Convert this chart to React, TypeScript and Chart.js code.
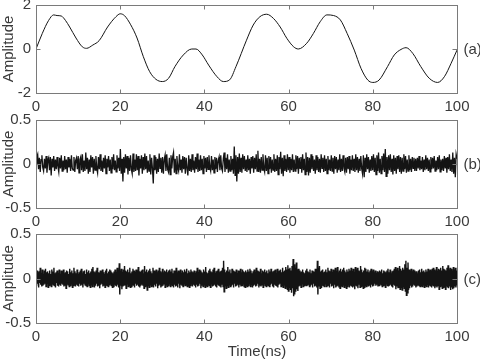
import React, { useEffect, useRef } from "react";
import { Chart, registerables } from "chart.js";

Chart.register(...registerables);

const FONT_FAMILY = "'Liberation Sans', Arial, sans-serif";
const TEXT_COLOR = "#3a3a3a";
const FRAME_COLOR = "#7a7a7a";
const LINE_COLOR = "#141414";

const xTickValues = [0, 20, 40, 60, 80, 100];
const panelLabels = ["(a)", "(b)", "(c)"];
const xAxisTitle = "Time(ns)";
const yAxisTitle = "Amplitude";

// Panel (a): smooth waveform
const timeA = [0, 1.5, 3, 4.2, 5, 6, 7, 8, 9.5, 11, 12, 13.5, 15, 17, 19, 20, 21, 22.5, 24, 25.5, 27, 28.5, 30, 31.5, 33, 35, 37, 38, 39.5, 41, 43, 44.5, 46, 47.5, 50, 51.6, 53.2, 54.8, 56.4, 58, 59.6, 61.2, 62.3, 64.3, 65.9, 67.5, 69.1, 70.7, 72.3, 73.9, 75.6, 77.2, 78.8, 80, 81.5, 83.5, 85.1, 86.7, 87.9, 89.5, 91.4, 93.4, 95.4, 97, 98.6, 100];
const ampA = [0, 0.71, 1.3, 1.55, 1.52, 1.5, 1.3, 1.0, 0.5, 0.1, 0.03, 0.18, 0.38, 1.0, 1.47, 1.6, 1.52, 1.1, 0.5, -0.35, -1.03, -1.38, -1.48, -1.33, -0.8, -0.27, 0, 0, -0.27, -0.73, -1.26, -1.48, -1.4, -0.8, 0.4, 1.09, 1.47, 1.58, 1.39, 1.0, 0.48, 0.1, 0, 0.26, 0.71, 1.24, 1.55, 1.52, 1.32, 0.71, -0.05, -0.88, -1.41, -1.52, -1.41, -0.8, -0.27, -0.02, 0.06, -0.2, -0.8, -1.33, -1.52, -1.26, -0.65, -0.05];

// Panel (b): noise, in hundredths, evenly spaced over 0..100 ns
const noiseB = [
  0,8,11,-6,7,-9,5,10,-4,-8,6,-5,9,-10,4,7,-7,8,-13,6,-4,9,-8,5,-6,8,-3,-9,7,-5,10,-8,4,-7,9,-6,5,-10,8,-4,6,-8,10,-5,-7,8,-9,4,7,-6,
  9,-10,5,8,-7,11,-9,4,-8,13,-6,7,-11,5,-9,10,-4,8,-11,6,-7,9,-5,-10,8,-6,11,-8,4,-9,7,-5,10,-11,6,-4,9,-8,5,-10,8,-6,11,-7,4,-9,10,-5,7,-8,
  17,-11,6,-20,8,-10,11,-5,9,-12,7,-8,10,-6,-11,12,-9,5,-8,11,-7,9,-13,6,-5,10,-11,8,-7,12,-6,9,-10,4,-8,11,-12,7,-5,-22,10,-7,8,-11,6,-9,12,-5,7,-10,
  8,-11,5,10,-8,11,-6,-9,7,-12,10,-5,8,13,-10,6,-11,9,-4,-8,11,-7,5,-10,9,-6,8,-11,7,-5,-13,10,-8,6,-9,11,-7,4,-10,8,-6,12,-9,5,-8,10,-7,6,-11,9,
  -5,7,-9,8,-6,10,-4,-8,9,-7,5,-10,8,-6,7,-9,4,8,-7,10,-5,-8,6,13,-9,7,-6,11,-10,5,-8,9,-7,6,-11,20,-13,10,-20,8,-11,12,-9,7,-10,11,-6,9,-8,5,
  -9,10,-7,6,-11,8,-5,9,-10,7,-6,11,-8,15,-9,6,-10,8,-7,11,-5,-9,10,-8,7,-11,9,-6,8,-10,5,-7,11,-9,6,-8,10,-12,8,-6,14,-11,7,-14,10,-8,6,-9,11,-7,
  8,-10,6,-7,11,-9,5,-8,10,-6,9,-11,7,-5,8,-10,11,-7,6,-12,13,-9,8,-13,7,-10,11,-6,9,-8,5,-11,10,-7,8,-9,6,-10,11,-5,7,-9,10,-8,6,-11,9,-7,5,-8,
  10,-8,7,-11,9,-6,8,-10,5,-7,11,-9,6,-8,10,-5,-9,7,-10,8,-6,9,-11,5,-7,10,-8,6,-9,11,-7,8,-10,6,-8,9,-5,-11,10,-15,7,-9,11,-6,8,-10,5,-8,9,-7,
  11,-9,7,-12,10,-8,13,-10,6,-11,9,-7,12,-9,17,-14,8,-11,10,-7,11,-9,6,-12,10,-8,7,-11,9,-6,10,-9,8,-11,7,-8,11,-6,9,-10,5,-8,10,-7,6,-9,8,-5,7,-8,
  6,-8,7,-5,9,-7,4,-6,8,-9,5,-7,10,-6,7,-8,5,-9,8,-6,7,-5,9,-8,4,-7,8,-6,10,-9,5,-7,6,-8,9,-5,7,-10,8,-6,11,-8,5,-9,13,-11,7,-15,11,6
];

// Panel (c): denser noise, in hundredths, evenly spaced over 0..100 ns
const noiseC = [
  5,-8,9,-6,7,-10,8,-5,12,-7,6,-9,10,-8,5,-7,9,-6,11,-9,7,-5,8,-10,6,-8,9,-7,5,-9,10,-6,8,-7,12,-8,6,-10,7,-5,9,-8,6,-9,10,-7,5,-8,9,-6,
  8,-7,10,-9,6,-8,7,-11,9,-6,8,-7,5,-9,11,-8,7,-6,9,-10,6,-8,12,-7,8,-9,6,-7,10,-8,5,-9,7,-6,9,-8,11,-7,6,-10,8,-6,9,-7,5,-8,10,-9,7,-6,
  9,-8,6,-10,8,-7,11,-9,13,-6,8,-10,7,-8,9,-6,12,-9,7,-8,6,-11,9,-7,8,-6,10,-9,7,-8,5,-10,9,-7,11,-8,6,-9,8,-7,10,-6,9,-8,7,-10,6,-9,8,-7,
  10,-8,7,-9,12,-7,8,-10,17,-18,9,-8,11,-12,7,-9,10,-8,14,-7,9,-11,8,-6,10,-9,7,-8,12,-10,6,-9,8,-7,11,-8,9,-10,7,-6,10,-8,9,-7,13,-9,8,-10,7,-8,
  9,-7,10,-8,6,-11,14,-9,8,-7,10,-13,7,-8,9,-10,11,-7,8,-9,6,-8,12,-10,9,-7,8,-9,10,-6,7,-11,9,-8,12,-7,8,-10,6,-9,11,-8,7,-6,9,-10,8,-7,10,-9,
  7,-8,9,-6,10,-9,8,-7,11,-8,6,-10,9,-7,8,-9,12,-8,7,-10,9,-6,8,-11,10,-7,6,-8,9,-9,7,-6,10,-8,8,-7,11,-9,6,-8,9,-10,7,-8,10,-6,8,-9,7,-7,
  9,-8,6,-10,8,-7,12,-9,7,-8,10,-6,9,-11,7,-8,6,-9,10,-7,8,-10,13,-8,7,-9,6,-7,9,-8,11,-10,8,-6,7,-9,10,-8,12,-7,6,-9,8,-10,9,-7,11,-8,7,-9,
  8,-10,9,-7,12,-9,20,-15,10,-8,7,-11,9,-8,13,-10,8,-7,10,-9,6,-8,11,-7,9,-10,8,-6,7,-9,10,-8,6,-7,9,-10,8,-7,11,-9,7,-8,10,-6,8,-9,7,-10,9,-8,
  7,-9,10,-8,8,-6,11,-9,9,-7,6,-10,8,-8,10,-7,7,-9,12,-8,9,-6,8,-10,7,-8,11,-9,6,-7,9,-10,8,-6,10,-8,7,-9,9,-7,6,-8,10,-9,8,-7,11,-6,7,-9,
  8,-10,9,-7,10,-8,6,-9,11,-10,8,-7,9,-6,10,-9,7,-8,12,-10,8,-7,9,-11,13,-9,10,-12,15,-14,11,-10,12,-13,9,-16,14,-11,22,-20,16,-18,12,-15,18,-12,10,-14,11,-9,
  9,-8,7,-10,8,-6,10,-9,7,-8,6,-7,9,-8,11,-7,8,-6,7,-9,10,-8,6,-7,9,-10,8,-6,7,-9,11,-8,9,-10,20,-18,12,-9,14,-11,8,-10,9,-7,10,-8,7,-9,8,-6,
  10,-9,7,-8,12,-7,9,-10,8,-6,11,-9,7,-8,10,-11,9,-7,12,-10,8,-9,13,-8,7,-10,9,-11,11,-8,8,-9,10,-7,12,-10,9,-8,7,-11,10,-9,8,-7,11,-10,9,-8,12,-9,
  8,-10,11,-9,7,-12,13,-8,10,-9,12,-11,9,-7,8,-10,14,-9,10,-8,7,-11,9,-10,12,-8,11,-9,8,-7,10,-9,7,-8,9,-10,11,-7,8,-9,10,-8,7,-6,9,-8,6,-7,8,-9,
  7,-8,9,-6,8,-7,10,-9,6,-8,9,-7,8,-10,7,-6,9,-8,11,-9,7,-8,10,-7,6,-9,8,-10,9,-7,11,-8,13,-12,10,-9,12,-11,9,-10,14,-12,11,-10,9,-13,12,-9,10,-11,
  16,-14,20,-19,12,-16,18,-13,10,-11,9,-8,11,-10,8,-9,10,-7,9,-8,7,-10,8,-9,6,-7,9,-8,10,-9,7,-8,11,-9,8,-7,9,-10,7,-8,10,-9,8,-7,11,-10,9,-8,10,-9,
  9,-10,11,-8,12,-9,10,-11,8,-9,13,-10,9,-8,11,-12,10,-9,12,-8,9,-11,14,-10,11,-9,10,-12,9,-8,12,-10,15,-11,10,-9,12,-13,11,-10,9,-12,13,-11,10,-9,12,-10,9,-8
];

const yRangeA = [-2, 2];
const yTicksA = [-2, 0, 2];
const yRangeBC = [-0.5, 0.5];
const yTicksBC = [-0.5, 0, 0.5];

type PanelProps = {
  top: number;
  height: number;
  padTop: number;
  plotBottom: number;
  points: { x: number; y: number }[];
  yRange: number[];
  yTicks: number[];
  label: string;
  smooth: boolean;
  lineWidth: number;
  showXTitle: boolean;
};

function Panel(props: PanelProps) {
  const ref = useRef<HTMLCanvasElement>(null);
  useEffect(() => {
    const canvas = ref.current;
    if (!canvas) return;
    const font = { family: FONT_FAMILY, size: 15 };
    const framePlugin = {
      id: "frame",
      afterDraw(chart: any) {
        const { ctx, chartArea } = chart;
        const xs = chart.scales.x;
        const ys = chart.scales.y;
        const l = Math.round(chartArea.left) + 0.5;
        const r = Math.round(chartArea.right) + 0.5;
        const t = Math.round(chartArea.top) + 0.5;
        const b = Math.round(chartArea.bottom) + 0.5;
        ctx.save();
        ctx.strokeStyle = FRAME_COLOR;
        ctx.lineWidth = 1;
        ctx.strokeRect(l, t, r - l, b - t);
        ctx.beginPath();
        for (const v of xTickValues) {
          const px = Math.round(xs.getPixelForValue(v)) + 0.5;
          ctx.moveTo(px, b);
          ctx.lineTo(px, b - 4);
          ctx.moveTo(px, t);
          ctx.lineTo(px, t + 4);
        }
        for (const v of props.yTicks) {
          const py = Math.round(ys.getPixelForValue(v)) + 0.5;
          ctx.moveTo(l, py);
          ctx.lineTo(l + 4, py);
        }
        const p0 = Math.round(ys.getPixelForValue(0)) + 0.5;
        ctx.moveTo(r, p0);
        ctx.lineTo(r - 5, p0);
        ctx.stroke();
        ctx.fillStyle = TEXT_COLOR;
        ctx.font = `15px ${FONT_FAMILY}`;
        ctx.textBaseline = "middle";
        ctx.textAlign = "left";
        ctx.fillText(props.label, r + 6, p0);
        ctx.save();
        ctx.translate(9, (chartArea.top + chartArea.bottom) / 2);
        ctx.rotate(-Math.PI / 2);
        ctx.textAlign = "center";
        ctx.fillText(yAxisTitle, 0, 0);
        ctx.restore();
        if (props.showXTitle) {
          ctx.textAlign = "center";
          ctx.fillText(xAxisTitle, 257, props.height - 8);
        }
        ctx.restore();
      },
    };
    const chart = new Chart(canvas, {
      type: "line",
      data: {
        datasets: [
          {
            data: props.points,
            borderColor: LINE_COLOR,
            borderWidth: props.lineWidth,
            pointRadius: 0,
            fill: false,
            cubicInterpolationMode: props.smooth ? "monotone" : "default",
            tension: 0,
          } as any,
        ],
      },
      options: {
        animation: false,
        responsive: false,
        events: [],
        layout: { padding: { top: props.padTop, right: 23, left: 0, bottom: 0 } },
        plugins: { legend: { display: false }, tooltip: { enabled: false } },
        scales: {
          x: {
            type: "linear",
            min: 0,
            max: 100,
            afterBuildTicks: (s: any) => {
              s.ticks = xTickValues.map((v) => ({ value: v }));
            },
            ticks: { font, color: TEXT_COLOR, padding: 5, maxRotation: 0, autoSkip: false },
            grid: { display: false, drawTicks: false },
            border: { display: false },
            afterFit: (s: any) => {
              s.height = props.height - props.plotBottom;
              s.paddingLeft = 0;
              s.paddingRight = 0;
            },
          },
          y: {
            type: "linear",
            min: props.yRange[0],
            max: props.yRange[1],
            afterBuildTicks: (s: any) => {
              s.ticks = props.yTicks.map((v) => ({ value: v }));
            },
            ticks: { font, color: TEXT_COLOR, padding: 5, callback: (v: any) => String(v) },
            grid: { display: false, drawTicks: false },
            border: { display: false },
            afterFit: (s: any) => {
              s.width = 36;
              s.paddingTop = 0;
              s.paddingBottom = 0;
            },
          },
        },
      } as any,
      plugins: [framePlugin],
    });
    return () => chart.destroy();
  }, []);
  return (
    <canvas
      ref={ref}
      width={480}
      height={props.height}
      style={{ position: "absolute", left: 0, top: props.top, width: 480, height: props.height }}
    />
  );
}

function toPoints(values: number[], scale: number) {
  const n = values.length;
  return values.map((v, i) => ({ x: (i * 100) / (n - 1), y: v / scale }));
}

export default function App() {
  const pointsA = timeA.map((t, i) => ({ x: t, y: ampA[i] }));
  const pointsB = toPoints(noiseB, 100);
  const pointsC = toPoints(noiseC, 100);
  return (
    <div style={{ position: "absolute", left: 0, top: 0, width: 480, height: 360, background: "#fff" }}>
      <Panel top={0} height={115} padTop={5} plotBottom={93} points={pointsA} yRange={yRangeA} yTicks={yTicksA} label={panelLabels[0]} smooth={true} lineWidth={1} showXTitle={false} />
      <Panel top={105} height={125} padTop={15} plotBottom={103} points={pointsB} yRange={yRangeBC} yTicks={yTicksBC} label={panelLabels[1]} smooth={false} lineWidth={1.3} showXTitle={false} />
      <Panel top={219} height={141} padTop={15} plotBottom={104} points={pointsC} yRange={yRangeBC} yTicks={yTicksBC} label={panelLabels[2]} smooth={false} lineWidth={1.4} showXTitle={true} />
    </div>
  );
}
